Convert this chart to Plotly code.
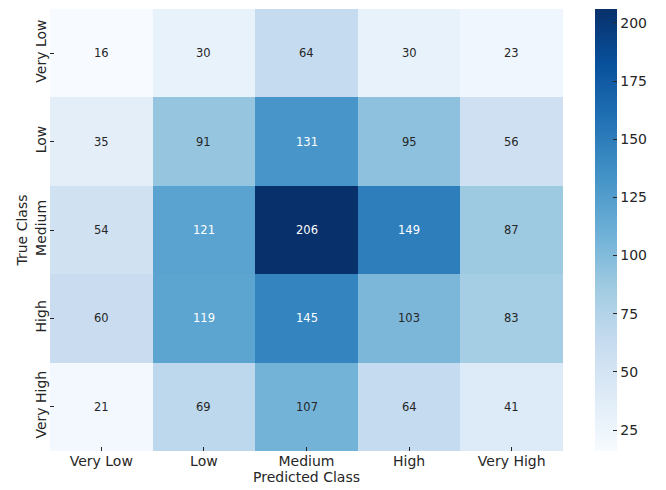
import plotly.graph_objects as go

# Confusion matrix: rows = true class, columns = predicted class
classes = ["Very Low", "Low", "Medium", "High", "Very High"]
counts = [
    [16, 30, 64, 30, 23],
    [35, 91, 131, 95, 56],
    [54, 121, 206, 149, 87],
    [60, 119, 145, 103, 83],
    [21, 69, 107, 64, 41],
]
cbar_ticks = [25, 50, 75, 100, 125, 150, 175, 200]

# matplotlib "Blues" colormap stops
blues = ["#f7fbff", "#deebf7", "#c6dbef", "#9ecae1", "#6baed6",
         "#4292c6", "#2171b5", "#08519c", "#08306b"]
colorscale = [[i / (len(blues) - 1), c] for i, c in enumerate(blues)]

vmin = min(min(r) for r in counts)
vmax = max(max(r) for r in counts)

W, H = 666, 490
left, right, top, bottom = 50, 103, 9, 39
plot_w = W - left - right

fig = go.Figure(go.Heatmap(
    z=counts, x=classes, y=classes,
    colorscale=colorscale, zmin=vmin, zmax=vmax,
    xgap=0, ygap=0,
    hoverinfo="skip",
    colorbar=dict(
        x=(595 - left) / plot_w, xanchor="left", xpad=0,
        y=0, yanchor="bottom", len=1, lenmode="fraction", ypad=0,
        thickness=22, outlinewidth=0,
        tickvals=cbar_ticks, ticks="inside", ticklen=4,
        tickcolor="#262626",
        tickfont=dict(family="DejaVu Sans", size=14, color="#262626"),
    ),
))

# cell value labels, light text on dark cells
for i, row in enumerate(counts):
    for j, v in enumerate(row):
        frac = (v - vmin) / (vmax - vmin)
        fig.add_annotation(
            x=classes[j], y=classes[i], text=str(v), showarrow=False,
            font=dict(family="DejaVu Sans", size=11.5,
                      color="#ffffff" if frac > 0.5 else "#262626"),
        )

axis_font = dict(family="DejaVu Sans", size=14, color="#262626")
fig.update_layout(
    width=W, height=H,
    margin=dict(l=left, r=right, t=top, b=bottom),
    paper_bgcolor="white", plot_bgcolor="white",
    xaxis=dict(title=dict(text="Predicted Class", font=axis_font, standoff=0),
               tickfont=axis_font, ticks="inside", ticklen=4,
               tickcolor="#262626", showgrid=False, zeroline=False),
    yaxis=dict(title=dict(text="True Class", font=axis_font, standoff=2),
               tickfont=axis_font, ticks="inside", ticklen=4,
               tickcolor="#262626", tickangle=-90, autorange="reversed",
               showgrid=False, zeroline=False),
)

fig.write_html("out.html")
